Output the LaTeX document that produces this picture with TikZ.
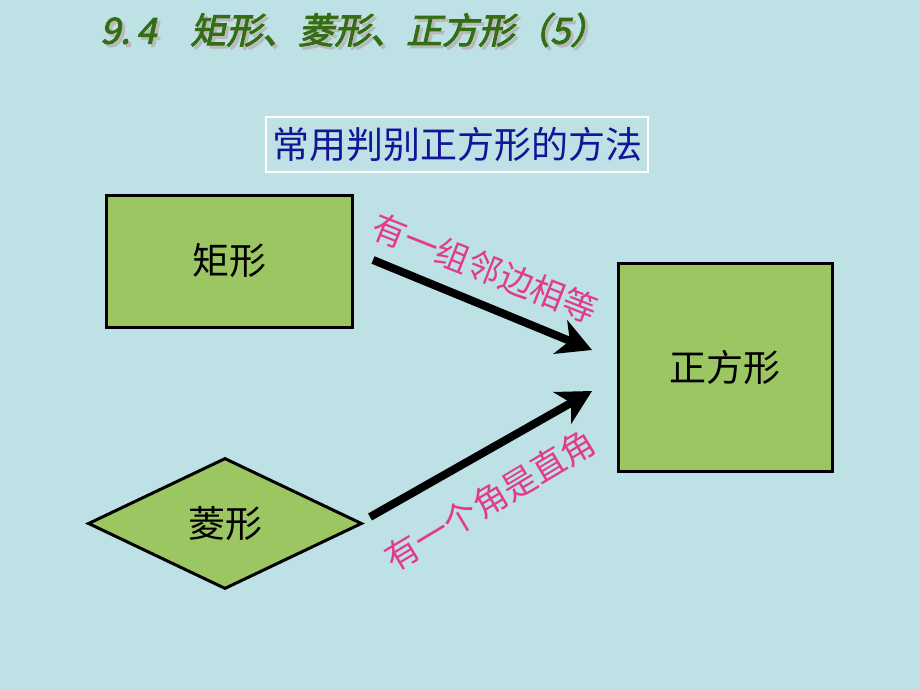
\documentclass[tikz,border=0pt]{standalone}
\usepackage{fontspec}
\setmainfont{Noto Sans CJK SC}
\newfontfamily\cjk{Noto Sans CJK SC}
\newfontfamily\cjktitle[FakeBold=2.5,FakeSlant=0.22]{Noto Sans CJK SC}
\usetikzlibrary{arrows.meta,shapes.geometric}
\definecolor{bgc}{RGB}{189,225,228}
\definecolor{boxg}{RGB}{155,198,98}
\definecolor{titleg}{RGB}{52,110,20}
\definecolor{subblue}{RGB}{20,20,150}
\definecolor{pinkc}{RGB}{225,60,140}
\tikzset{
  shape box/.style={draw=black,line width=3pt,fill=boxg,font=\cjk\fontsize{37}{40}\selectfont,text=black},
  bigarrow/.style={line width=8pt,-{Stealth[length=34pt,width=36pt,inset=10pt]},black},
  pinklabel/.style={font=\cjk\fontsize{34}{38}\selectfont,text=pinkc,inner sep=0pt},
  titletext/.style={anchor=west,font=\cjktitle\fontsize{36}{40}\selectfont,inner sep=0pt},
}
\begin{document}
\begin{tikzpicture}[x=1pt,y=-1pt]
\fill[bgc] (0,0) rectangle (920,690);
\useasboundingbox (0,0) rectangle (920,690);
% title
\node[titletext,text=gray!55] (tshadow) at (103,33) {9.\,4\hspace{34pt}矩形、菱形、正方形（5）};
\node[titletext,text=titleg] (title) at (100,30) {9.\,4\hspace{34pt}矩形、菱形、正方形（5）};
% subtitle
\node[draw=white,line width=2pt,minimum width=382pt,minimum height=55pt,font=\cjk\fontsize{37}{40}\selectfont,text=subblue,inner sep=0pt] (sub) at (457,144.5) {常用判别正方形的方法};
% shapes
\node[shape box,minimum width=246pt,minimum height=132pt] (rect) at (229,261) {矩形};
\node[shape box,minimum width=214pt,minimum height=208pt] (sq) at (725,367) {正方形};
\node[shape box,diamond,aspect=2.1,minimum width=274pt,minimum height=131pt,inner sep=0pt] (rh) at (225,523.5) {菱形};
% arrows
\coordinate (a1s) at (373,260);
\coordinate (a1e) at (592,350);
\coordinate (a2s) at (370,517);
\coordinate (a2e) at (592,391);
\draw[bigarrow] (a1s) -- (a1e);
\draw[bigarrow] (a2s) -- (a2e);
% labels
\node[pinklabel,rotate=-21.5] (l1) at (485,268) {有一组邻边相等};
\node[pinklabel,rotate=31] (l2) at (490,500) {有一个角是直角};
\end{tikzpicture}
\end{document}
